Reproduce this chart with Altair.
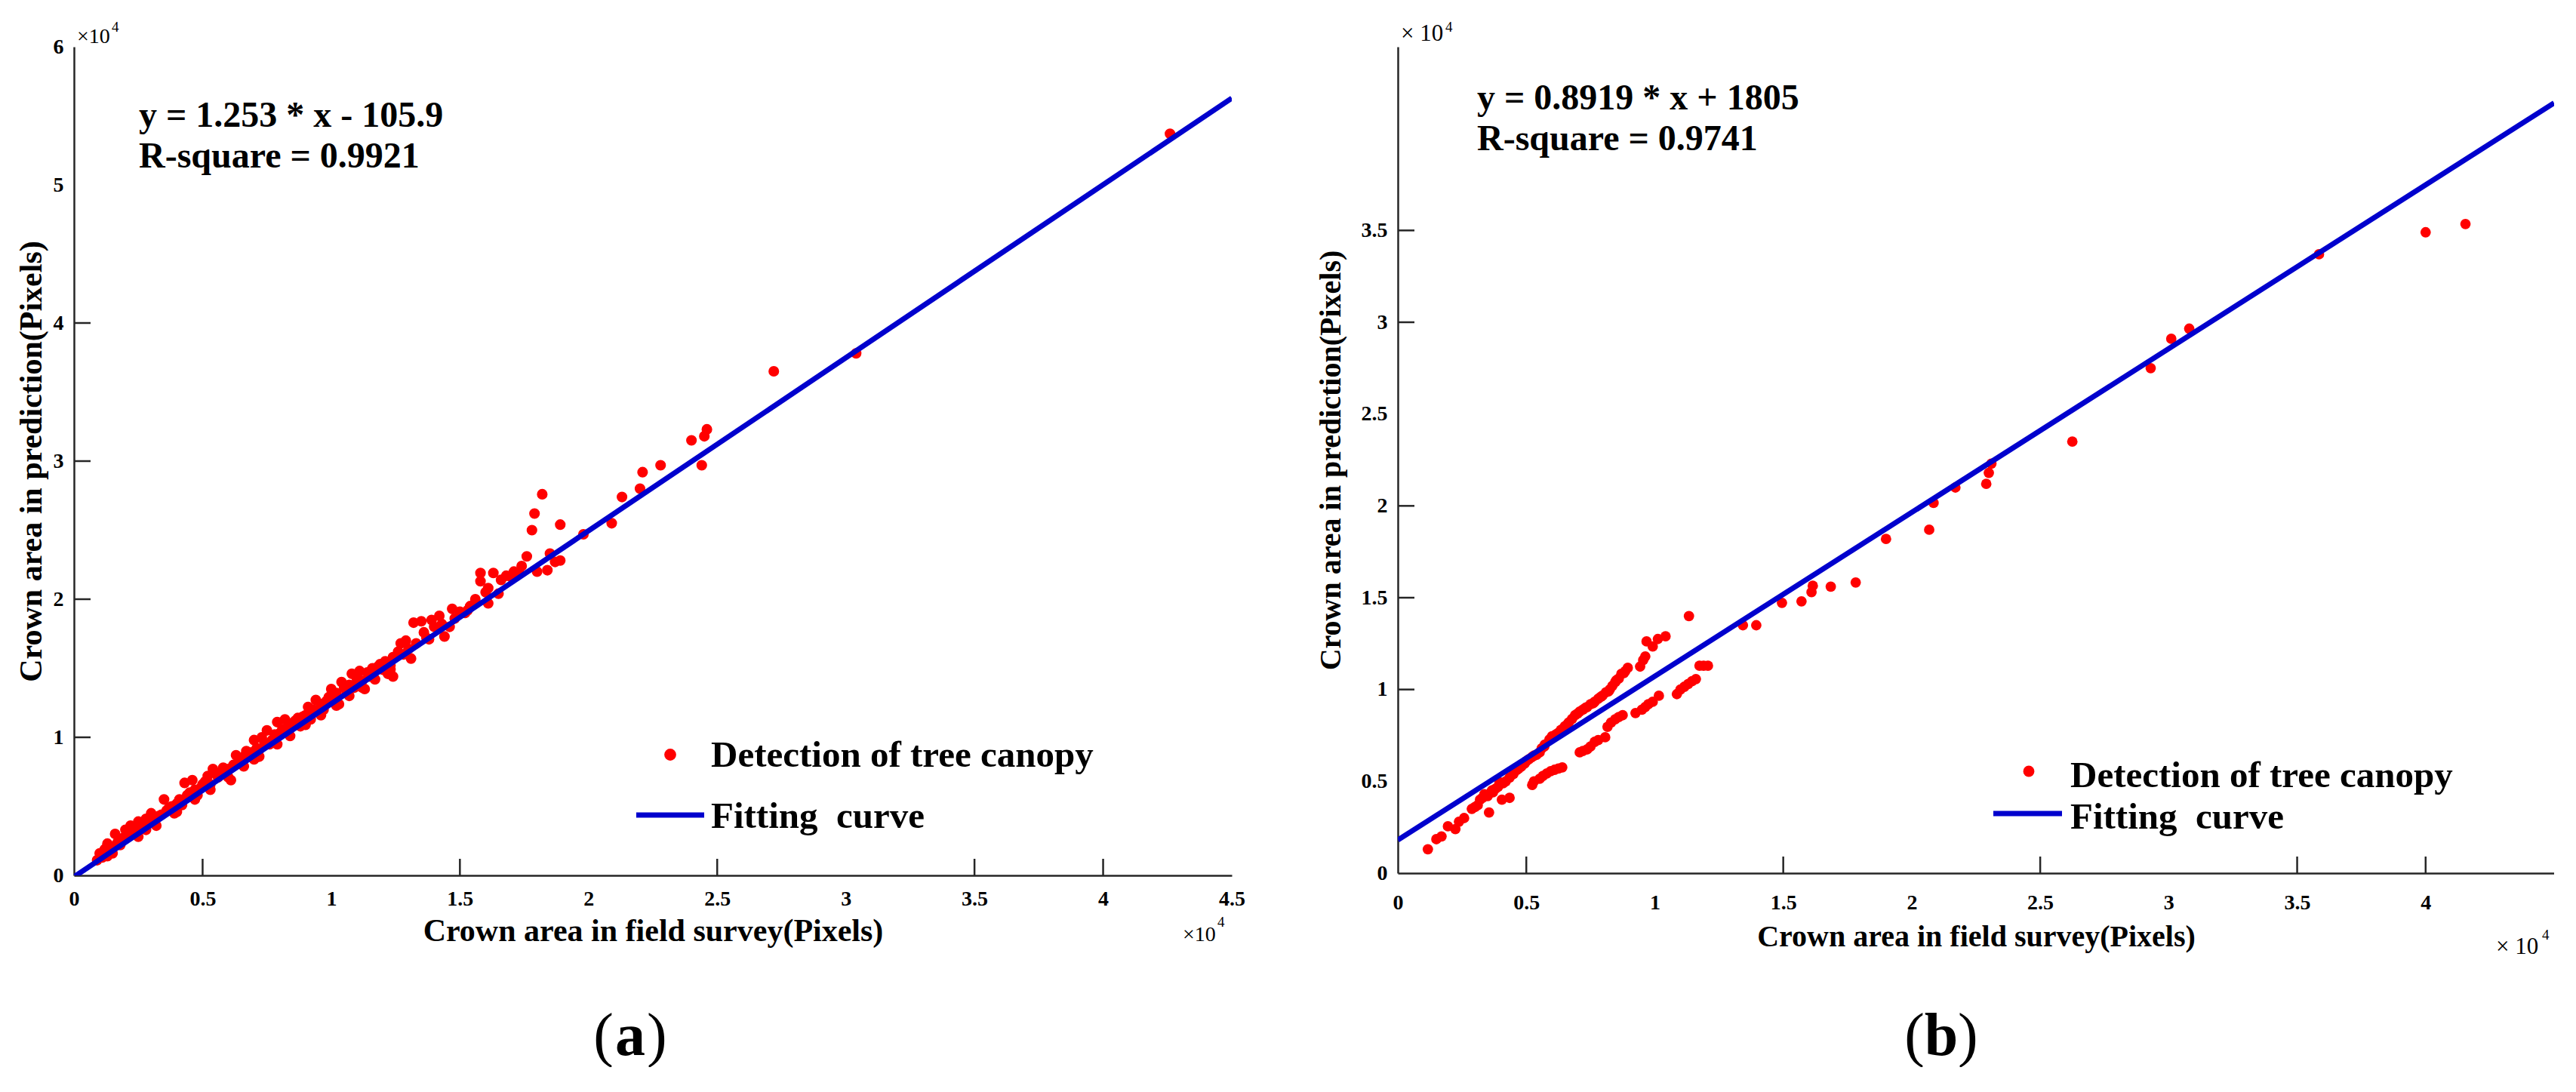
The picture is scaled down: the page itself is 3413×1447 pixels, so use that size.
import altair as alt
import pandas as pd

SERIF = "Liberation Serif"
RED = "#ff0000"
BLUE = "#0000cd"
AXIS_INK = "#262626"

# ---------------- panel (a): crown area, field survey vs prediction (pixels)
field_a = [
    900, 1000, 1100, 1200, 1300, 1300, 1500, 1600, 1700, 1900,
    2000, 2200, 2300, 2500, 2600, 2800, 2800, 3000, 3100, 3300,
    3500, 3600, 3800, 3900, 4100, 4300, 4400, 4600, 4700, 4800,
    5000, 5200, 5400, 5600, 5800, 5900, 6100, 6200, 6300, 6500,
    6700, 6800, 7000, 7000, 7200, 7300, 7500, 7600, 7700, 7900,
    8000, 8200, 8300, 8500, 8600, 8800, 8900, 9100, 9200, 9400,
    9500, 9700, 9800, 10000, 10100, 10300, 10400, 10600, 10800, 10900,
    11100, 11200, 11300, 11500, 11800, 12000, 12200, 12400, 12400, 12700,
    12800, 12900, 13100, 13200, 13500, 13700, 13900, 14200, 13800, 14400,
    14600, 14700, 14800, 15200, 15400, 15600, 15800, 15800, 16100, 16100,
    16300, 16500, 16800, 17100, 17400, 17600, 17800, 17900, 18200, 18000,
    18400, 18500, 18700, 18900, 18900, 19800, 20900, 21300, 22000, 22100,
    22800, 24000, 24400, 24500, 24600, 27200, 30400, 42600,
    1400, 1800, 2100, 2400, 2700, 2900, 3200, 3400, 3700, 4000,
    4200, 4500, 4900, 5100, 5300, 5500, 5700, 6000, 6400, 6600,
    6900, 7100, 7400, 7800, 8100, 8400, 8700, 9000, 9300, 9600,
    9900, 10200, 10500, 10700, 11000, 11400, 11600, 11900, 12100, 12300,
    12600, 13000, 13300, 13600, 14000, 14300, 15000, 15300, 16000, 16600,
    17000, 17300,
    1500, 2500, 3200, 4000, 4700, 5300, 6000, 6600, 7200, 7900,
    8400, 9000, 9600, 10200, 10700, 11200, 11700, 12300,
]
pred_a = [
    1100, 1600, 1300, 1900, 1400, 2300, 2100, 3000, 2400, 2700,
    3300, 3600, 3000, 3900, 3400, 4100, 3300, 4500, 3900, 4300,
    5500, 4700, 5000, 4500, 5500, 6700, 5800, 6900, 6200, 5800,
    6600, 7200, 7700, 7100, 7800, 7400, 6900, 8000, 8700, 8300,
    9000, 8600, 9800, 8400, 9100, 10000, 10500, 9500, 9800, 11100,
    10300, 11300, 10600, 10900, 11200, 10800, 11500, 12200, 11300, 12700,
    11900, 12000, 12600, 13500, 12700, 12400, 14000, 13300, 14600, 13600,
    14800, 14100, 13500, 14400, 15100, 14900, 14600, 15800, 14400, 16800,
    16000, 17000, 15700, 18300, 18400, 17200, 18500, 18800, 17100, 17300,
    18000, 19300, 18600, 19000, 19500, 20000, 21900, 21300, 19700, 20800,
    21900, 20400, 21700, 22000, 22400, 23100, 25000, 26200, 27600, 22000,
    22100, 23300, 22700, 25400, 22800, 24700, 25500, 27400, 28000, 29200,
    29700, 31500, 29700, 31800, 32300, 36500, 37800, 53700,
    1700, 2200, 2800, 3200, 3700, 3800, 4200, 4400, 4900, 5200,
    5100, 6000, 6300, 6800, 6600, 7400, 7300, 7700, 8100, 8600,
    8900, 9200, 9600, 10200, 10600, 11000, 11400, 11600, 12000, 12400,
    12900, 13200, 13600, 13800, 14200, 14700, 15000, 15300, 15500, 15200,
    16200, 16400, 16800, 17600, 18000, 18200, 19100, 19200, 20500, 21400,
    21600, 21900,
    1600, 2800, 3600, 4600, 5500, 6200, 7100, 7900, 8600, 9500,
    10100, 10900, 11600, 12300, 13000, 13600, 14200, 14900,
]
slope_a, intercept_a, r2_a = 1.253, -105.9, 0.9921
xlabels_a = [0, 5000, 10000, 15000, 20000, 25000, 30000, 35000, 40000, 45000]
ylabels_a = [0, 10000, 20000, 30000, 40000, 50000, 60000]
xticks_a = [5000, 15000, 25000, 35000, 40000]
yticks_a = [10000, 20000, 30000, 40000]

# ---------------- panel (b)
field_b = [
    1170, 1500, 1700, 1950, 2240, 2380, 2580, 2880, 3000, 3110,
    3200, 3370, 3500, 3550, 3660, 3800, 3960, 4050, 4100, 4350,
    4350, 4500, 4640, 4800, 4930, 5100, 5230, 5230, 5400, 5520,
    5520, 5600, 5720, 5800, 5900, 6000, 6100, 6200, 6350, 6400,
    6500, 6650, 6780, 6900, 7080, 7080, 7200, 7370, 7370, 7500,
    7660, 7660, 7800, 7960, 8070, 8100, 8160, 8250, 8350, 8460,
    8460, 8600, 8700, 8750, 8850, 8950, 9250, 9430, 9550, 9630,
    9630, 9680, 9920, 9920, 10120, 10160, 10420, 10860, 11000, 11300,
    11330, 11600, 11740, 12070, 13430, 13950, 14950, 15710, 16100, 16150,
    16850, 17820, 19000, 20680, 20850, 21700, 22900, 23000, 23100, 26250,
    29300, 30100, 30800, 35850, 40000, 41550,
    3300, 3700, 3900, 4200, 4700, 5000, 5300, 5700, 6100, 6300,
    6600, 7000, 7300, 7600, 7900, 8200, 8500, 8800,
    5300, 5650, 5950, 6250, 7200, 7500, 7800, 8300, 8600, 9500,
    9750, 11150, 11450, 11900,
]
pred_b = [
    1300, 1850, 2000, 2550, 2400, 2800, 3000, 3500, 3600, 3700,
    4000, 4300, 4200, 3300, 4500, 4600, 4950, 4000, 4900, 4100,
    5200, 5400, 5630, 5800, 5960, 6200, 6330, 4800, 6450, 6580,
    5140, 6800, 7000, 5430, 7280, 7450, 5630, 7600, 7800, 5760,
    8000, 8200, 8400, 8600, 8800, 6580, 8900, 9050, 6740, 9200,
    9330, 7150, 9500, 9660, 7400, 9850, 7970, 10000, 10200, 10400,
    8380, 10600, 10850, 8600, 11000, 11180, 8720, 11250, 11600, 11800,
    9050, 12620, 12340, 9330, 12750, 9660, 12900, 9750, 10000, 10300,
    14000, 10570, 11300, 11300, 13500, 13500, 14720, 14800, 15300, 15650,
    15600, 15830, 18200, 18700, 20160, 21000, 21200, 21800, 22300, 23500,
    27500, 29100, 29650, 33700, 34900, 35350,
    4100, 4400, 4700, 5000, 5700, 6100, 6400, 6900, 7500, 7700,
    8100, 8700, 9000, 9250, 9600, 9900, 10500, 10900,
    5000, 5300, 5550, 5700, 6650, 6900, 7250, 8200, 8500, 8900,
    9200, 10150, 10450, 11300,
]
slope_b, intercept_b, r2_b = 0.8919, 1805, 0.9741
xlabels_b = [0, 5000, 10000, 15000, 20000, 25000, 30000, 35000, 40000]
ylabels_b = [0, 5000, 10000, 15000, 20000, 25000, 30000, 35000]
xticks_b = [5000, 15000, 25000, 35000, 40000]
yticks_b = [10000, 15000, 20000, 30000, 35000]

LEGEND_DOT = "Detection of tree canopy"
LEGEND_LINE = "Fitting\u00a0\u00a0curve"
X_TITLE = "Crown area in field survey(Pixels)"
Y_TITLE = "Crown area in prediction(Pixels)"


def note(text, x, y, size, weight="normal", align="left"):
    return alt.Chart(pd.DataFrame({"t": [text]})).mark_text(
        font=SERIF, fontSize=size, fontWeight=weight, align=align,
        baseline="alphabetic", color="black",
    ).encode(x=alt.value(x), y=alt.value(y), text="t:N")


def equation(slope, intercept):
    sign = "-" if intercept < 0 else "+"
    return f"y = {slope:g} * x {sign} {abs(intercept):g}"


def panel(field, pred, slope, intercept, r2, cfg):
    w, h = cfg["w"], cfg["h"]
    xscale = alt.Scale(domain=cfg["xdom"], nice=False, zero=False)
    yscale = alt.Scale(domain=cfg["ydom"], nice=False, zero=False)
    shared = dict(
        domainColor=AXIS_INK, domainWidth=2.5, ticks=False, tickSize=0, grid=False,
        labelFont=SERIF, labelFontSize=28, labelFontWeight="bold", labelColor="black",
        labelFlush=False, labelOverlap=False,
        labelExpr="format(datum.value / 10000, '~g')",
        titleFont=SERIF, titleFontWeight="bold", titleColor="black", titleAlign="center",
    )
    x_axis = alt.Axis(
        values=cfg["xlabels"], labelPadding=cfg["xlab_pad"], title=X_TITLE,
        titleFontSize=cfg["xtitle_size"], titleX=w / 2, titleY=cfg["xtitle_y"],
        titleBaseline="alphabetic", **shared,
    )
    y_axis = alt.Axis(
        values=cfg["ylabels"], labelPadding=cfg["ylab_pad"], title=Y_TITLE,
        titleFontSize=cfg["ytitle_size"], titleAngle=270, titleX=cfg["ytitle_x"],
        titleY=h / 2, titleBaseline="middle", **shared,
    )

    def X(f):
        return alt.X(f, scale=xscale, axis=x_axis)

    def Y(f):
        return alt.Y(f, scale=yscale, axis=y_axis)

    dots = alt.Chart(pd.DataFrame({"field": field, "pred": pred})).mark_circle(
        size=cfg["dot_size"], color=RED, opacity=1
    ).encode(x=X("field:Q"), y=Y("pred:Q"))

    ends = cfg["xdom"]
    fit = pd.DataFrame({"field": ends, "pred": [slope * v + intercept for v in ends]})
    fit_line = alt.Chart(fit).mark_line(color=BLUE, strokeWidth=7, clip=True).encode(
        x=X("field:Q"), y=Y("pred:Q")
    )

    # inward tick marks
    xt = alt.Chart(pd.DataFrame({"field": cfg["xticks"]})).mark_rule(
        color=AXIS_INK, strokeWidth=2.5
    ).encode(x=X("field:Q"), y=alt.value(h), y2=alt.value(h - 22))
    yt = alt.Chart(pd.DataFrame({"pred": cfg["yticks"]})).mark_rule(
        color=AXIS_INK, strokeWidth=2.5
    ).encode(y=Y("pred:Q"), x=alt.value(0), x2=alt.value(22))

    ex, (ey1, ey2) = cfg["eq_x"], cfg["eq_y"]
    texts = [
        note(equation(slope, intercept), ex, ey1, 48, "bold"),
        note(f"R-square = {r2:.4f}", ex, ey2, 48, "bold"),
    ]

    lg = cfg["legend"]
    legend_dot = alt.Chart(pd.DataFrame({"k": [0]})).mark_circle(
        size=lg["dot_size"], color=RED, opacity=1
    ).encode(x=alt.value(lg["dot"][0]), y=alt.value(lg["dot"][1]))
    legend_line = alt.Chart(pd.DataFrame({"k": [0]})).mark_rule(
        color=BLUE, strokeWidth=7
    ).encode(x=alt.value(lg["line"][0]), x2=alt.value(lg["line"][1]), y=alt.value(lg["line"][2]))
    texts += [
        note(LEGEND_DOT, lg["text_x"], lg["text_y"][0], 49, "bold"),
        note(LEGEND_LINE, lg["text_x"], lg["text_y"][1], 49, "bold"),
    ]

    # x10^4 multipliers on both axes
    for (mx, my, sx, sy) in cfg["multipliers"]:
        texts += [note(cfg["mult_text"], mx, my, cfg["mult_size"]), note("4", sx, sy, 19)]

    # sub-figure caption
    cx, cy, letter = cfg["caption"]
    texts += [
        note("(", cx - 22, cy, 80, "normal", "right"),
        note(letter, cx, cy, 80, "bold", "center"),
        note(")", cx + 22, cy, 80, "normal", "left"),
    ]

    layers = [dots, fit_line, xt, yt, legend_dot, legend_line] + texts
    if cfg.get("anchor"):
        # zero-length, invisible rule fixing the top-left corner of the canvas
        ax, ay = cfg["anchor"]
        layers.append(
            alt.Chart(pd.DataFrame({"k": [0]})).mark_rule(strokeOpacity=0, opacity=0).encode(
                x=alt.value(ax), x2=alt.value(ax), y=alt.value(ay), y2=alt.value(ay)
            )
        )
    return alt.layer(*layers).properties(width=w, height=h)


cfg_a = dict(
    w=1534, h=1098, xdom=[0, 45000], ydom=[0, 60000],
    xlabels=xlabels_a, ylabels=ylabels_a, xticks=xticks_a, yticks=yticks_a,
    xlab_pad=17, ylab_pad=14, xtitle_size=42, ytitle_size=42, xtitle_y=86, ytitle_x=-57,
    dot_size=200, eq_x=86, eq_y=(106, 160),
    legend=dict(dot=(790, 938), dot_size=250, line=(745, 835, 1018), text_x=844, text_y=(954, 1035)),
    multipliers=[(4, -5, 50, -20), (1469, 1185, 1515, 1166)],
    mult_text="\u00d710", mult_size=28,
    caption=(737, 1336, "a"), anchor=(-98, -62),
)
cfg_b = dict(
    w=1532, h=1095, xdom=[0, 45000], ydom=[0, 45000],
    xlabels=xlabels_b, ylabels=ylabels_b, xticks=xticks_b, yticks=yticks_b,
    xlab_pad=25, ylab_pad=14, xtitle_size=40, ytitle_size=40, xtitle_y=96, ytitle_x=-89,
    dot_size=190, eq_x=105, eq_y=(83, 137),
    legend=dict(dot=(836, 960), dot_size=220, line=(789, 880, 1016), text_x=891, text_y=(981, 1036)),
    multipliers=[(4, -8, 63, -20), (1455, 1202, 1516, 1183)],
    mult_text="\u00d7 10", mult_size=31,
    caption=(720, 1336, "b"),
)

chart = alt.hconcat(
    panel(field_a, pred_a, slope_a, intercept_a, r2_a, cfg_a),
    panel(field_b, pred_b, slope_b, intercept_b, r2_b, cfg_b),
    spacing=220, bounds="flush", padding=0,
).configure_view(stroke=None)

chart.save("out.html", embed_options={"renderer": "svg", "actions": False})
